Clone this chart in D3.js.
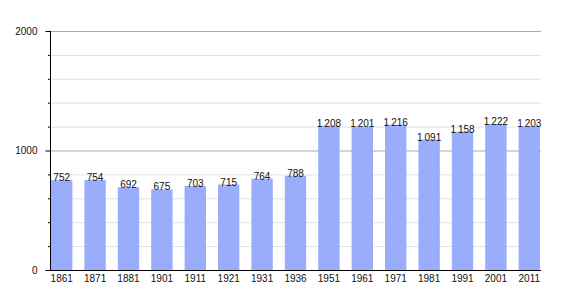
<!DOCTYPE html>
<html><head><meta charset="utf-8">
<script src="https://cdn.jsdelivr.net/npm/d3@7"></script>
<style>body{margin:0;background:#fff}svg{display:block}text{font-family:"Liberation Sans",Arial,sans-serif}</style>
</head><body><svg id="c" width="570" height="300"></svg>
<script>
const years = ["1861","1871","1881","1901","1911","1921","1931","1936","1951","1961","1971","1981","1991","2001","2011"];
const population = [752,754,692,675,703,715,764,788,1208,1201,1216,1091,1158,1222,1203];
const yMajorTicks = [0,1000,2000];
const yMinorTicks = [200,400,600,800,1200,1400,1600,1800];

(function(){
const svg = d3.select("#c");
const mLeft = 50, mRight = 541, mTop = 31, mBottom = 270;
const x = d3.scaleBand().domain(years).range([mLeft+1, mRight-1]).paddingInner(0.36).paddingOuter(0);
const y = d3.scaleLinear().domain([0,2000]).range([mBottom, mTop]);

svg.append("g").selectAll("line").data(yMinorTicks).join("line")
  .attr("x1", mLeft).attr("x2", mRight).attr("y1", d=>y(d)+0.5).attr("y2", d=>y(d)+0.5)
  .attr("stroke", "#e2e2e2").attr("stroke-width", 1);
svg.append("g").selectAll("line").data(yMajorTicks.filter(d=>d>0)).join("line")
  .attr("x1", mLeft).attr("x2", mRight).attr("y1", d=>y(d)+0.5).attr("y2", d=>y(d)+0.5)
  .attr("stroke", "#aaaaaa").attr("stroke-width", 1);

svg.append("g").selectAll("rect").data(population).join("rect")
  .attr("x", (d,i)=>x(years[i])).attr("width", x.bandwidth())
  .attr("y", d=>y(d)).attr("height", d=>mBottom - y(d))
  .attr("fill", "#99adfb");

const fmt = v => d3.format(",")(v).replace(/,/g, "\u2009");
svg.append("g").selectAll("text").data(population).join("text")
  .attr("x", (d,i)=>x(years[i]) + x.bandwidth()/2).attr("y", d=>y(d)+1)
  .attr("text-anchor","middle").attr("font-size", 10).attr("fill","#111")
  .text(d=>fmt(d));

const yAxis = d3.axisLeft(y).tickValues(yMajorTicks).tickSize(5).tickFormat(d3.format("d"));
const gy = svg.append("g").attr("transform", `translate(${mLeft+0.5},0)`).call(yAxis);
gy.select(".domain").attr("stroke","#000").attr("d", `M0,${mTop}V${mBottom}`);
gy.selectAll("text").attr("font-size",10).attr("fill","#111").attr("x",-13);
gy.selectAll(".tick line").attr("stroke","#000");
svg.append("g").selectAll("line").data(yMinorTicks).join("line")
  .attr("x1", mLeft-2).attr("x2", mLeft).attr("y1", d=>y(d)+0.5).attr("y2", d=>y(d)+0.5)
  .attr("stroke","#000");

const xAxis = d3.axisBottom(x).tickSize(0).tickPadding(4);
const gx = svg.append("g").attr("transform", `translate(0,${mBottom+0.5})`).call(xAxis);
gx.select(".domain").attr("stroke","#000").attr("d", `M${mLeft},0H${mRight}`);
gx.selectAll("text").attr("font-size",10).attr("fill","#111");
})();
</script></body></html>
